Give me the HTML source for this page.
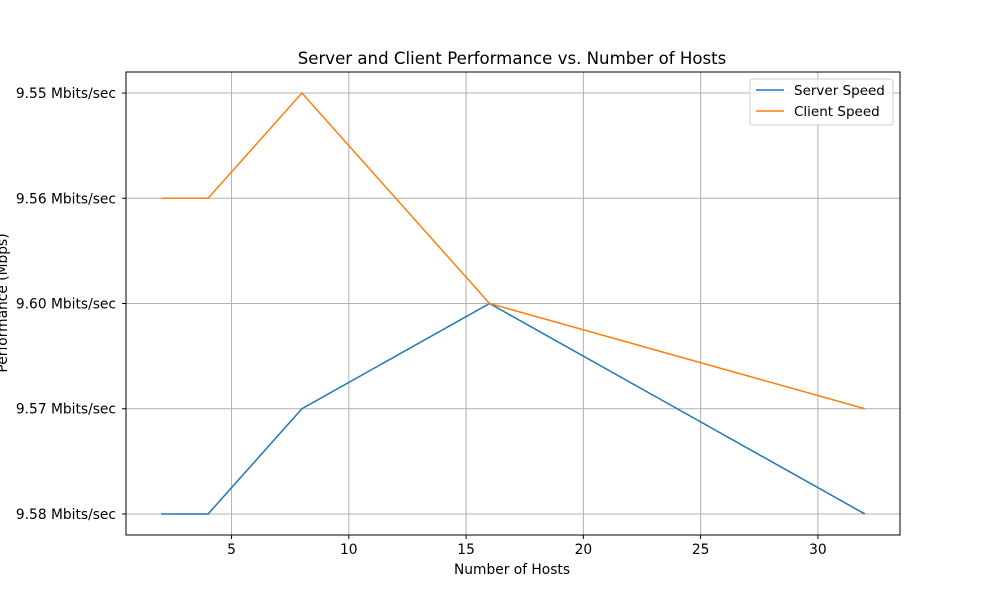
<!DOCTYPE html>
<html><head><meta charset="utf-8"><style>
body{margin:0;background:#fff;}
svg text{font-family:"DejaVu Sans","Liberation Sans",sans-serif;fill:#000;}
</style></head><body>
<svg id="chart" width="1000" height="600" xmlns="http://www.w3.org/2000/svg">
<rect width="1000" height="600" fill="#fff"/>
<g id="grid"></g>
<g id="series"></g>
<rect x="126" y="72" width="774" height="463" fill="none" stroke="#000" stroke-width="1"/>
<g id="ticks"></g>
<text x="512" y="64" font-size="16.6" text-anchor="middle">Server and Client Performance vs. Number of Hosts</text>
<text x="512" y="574" font-size="13.8" text-anchor="middle">Number of Hosts</text>
<text transform="translate(7,303) rotate(-90)" font-size="13.8" text-anchor="middle">Performance (Mbps)</text>
<g>
<rect x="750" y="79" width="143" height="46" rx="3" fill="#fff" fill-opacity="0.8" stroke="#ccc"/>
<g><line x1="756" y1="90" x2="784" y2="90" stroke="#1f77b4" stroke-width="1.5"/><text x="794" y="95" font-size="13.5">Server Speed</text></g>
<g><line x1="756" y1="111" x2="784" y2="111" stroke="#ff7f0e" stroke-width="1.5"/><text x="794" y="116" font-size="13.5">Client Speed</text></g>
</g>
</svg>
<script>
const categories = ["9.58 Mbits/sec","9.57 Mbits/sec","9.60 Mbits/sec","9.56 Mbits/sec","9.55 Mbits/sec"];
const hosts = [2,4,8,16,32];
const serverSpeed = ["9.58 Mbits/sec","9.58 Mbits/sec","9.57 Mbits/sec","9.60 Mbits/sec","9.58 Mbits/sec"];
const clientSpeed = ["9.56 Mbits/sec","9.56 Mbits/sec","9.55 Mbits/sec","9.60 Mbits/sec","9.57 Mbits/sec"];
const xTicks = [5,10,15,20,25,30];
const NS="http://www.w3.org/2000/svg";
const L=126,R=900,T=72,B=535;
const xmin=0.5,xmax=33.5,ymin=-0.2,ymax=4.2;
const xs=v=>L+(v-xmin)/(xmax-xmin)*(R-L);
const ys=c=>B-(categories.indexOf(c)-ymin)/(ymax-ymin)*(B-T);
const yi=i=>B-(i-ymin)/(ymax-ymin)*(B-T);
const grid=document.getElementById('grid'),ticks=document.getElementById('ticks'),ser=document.getElementById('series');
function mk(t,a,p){const e=document.createElementNS(NS,t);for(const k in a)e.setAttribute(k,a[k]);p.appendChild(e);return e;}
xTicks.forEach(v=>{const x=xs(v);
const g=mk('line',{x1:x,x2:x,y1:T,y2:B,stroke:'#b0b0b0','stroke-width':1},grid);


mk('line',{x1:x,x2:x,y1:B,y2:B+4,stroke:'#000'},ticks);
const t=mk('text',{x:x,y:B+19,'font-size':13.8,'text-anchor':'middle'},ticks);t.textContent=v;


});
categories.forEach((c,i)=>{const y=yi(i);
const g=mk('line',{x1:L,x2:R,y1:y,y2:y,stroke:'#b0b0b0','stroke-width':1},grid);


mk('line',{x1:L-4,x2:L,y1:y,y2:y,stroke:'#000'},ticks);
const t=mk('text',{x:L-10,y:y+5,'font-size':13.8,'text-anchor':'end'},ticks);t.textContent=c;


});
[[serverSpeed,'#1f77b4','server-speed-line'],[clientSpeed,'#ff7f0e','client-speed-line']].forEach(([d,col,name])=>{
const pts=hosts.map((h,i)=>xs(h)+','+ys(d[i])).join(' ');
const p=mk('polyline',{points:pts,fill:'none',stroke:col,'stroke-width':1.5},ser);


});
</script>
</body></html>
